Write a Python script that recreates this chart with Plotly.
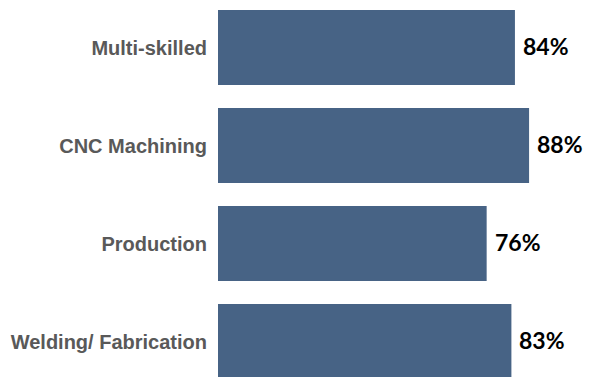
import plotly.graph_objects as go

# Share of respondents by skill area
categories = ["Multi-skilled", "CNC Machining", "Production", "Welding/ Fabrication"]
values = [84, 88, 76, 83]
value_labels = [f"{v}%" for v in values]

BAR_COLOR = "#476385"

fig = go.Figure(
    go.Bar(
        x=values,
        y=categories,
        orientation="h",
        marker=dict(color=BAR_COLOR, line=dict(width=0)),
        width=0.765,
        hoverinfo="skip",
    )
)

# Percentage labels just past the end of each bar
for cat, v, lab in zip(categories, values, value_labels):
    fig.add_annotation(
        x=v, y=cat, text=f"<b>{lab}</b>", showarrow=False,
        xanchor="left", yanchor="middle", xshift=6, yshift=2,
        font=dict(family="Lato", size=23, color="#000000"),
    )

fig.update_layout(
    width=592, height=377,
    margin=dict(l=218, r=0, t=0, b=0),
    paper_bgcolor="white", plot_bgcolor="white",
    showlegend=False,
    bargap=0.235,
)
fig.update_xaxes(range=[0, 105.8], visible=False, showgrid=False, zeroline=False)
fig.update_yaxes(
    categoryorder="array", categoryarray=categories,
    range=[3.362, -0.485],
    showgrid=False, zeroline=False, showline=False,
    ticklabelstandoff=10,
    tickfont=dict(family="Liberation Sans", size=20, color="#595959", weight="bold"),
)

fig.write_html("out.html")
